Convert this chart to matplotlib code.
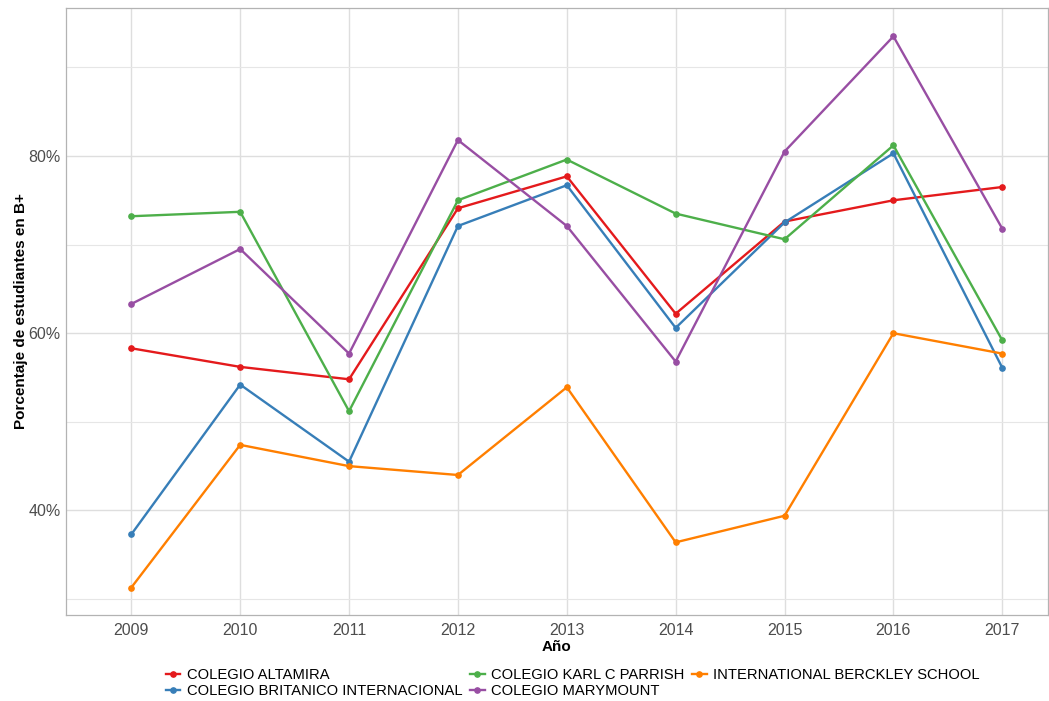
import numpy as np
import matplotlib.pyplot as plt
from matplotlib.ticker import FuncFormatter, FixedLocator

plt.rcParams['font.family'] = ['Liberation Sans', 'DejaVu Sans']

# datos: porcentaje de estudiantes en B+ por colegio
anios = [2009, 2010, 2011, 2012, 2013, 2014, 2015, 2016, 2017]
altamira = [58.3, 56.2, 54.8, 74.1, 77.7, 62.2, 72.6, 75.0, 76.5]
britanico = [37.3, 54.2, 45.5, 72.1, 76.7, 60.6, 72.5, 80.3, 56.1]
karl_parrish = [73.2, 73.7, 51.2, 75.0, 79.6, 73.5, 70.6, 81.2, 59.2]
marymount = [63.3, 69.5, 57.7, 81.8, 72.1, 56.8, 80.5, 93.5, 71.8]
berckley = [31.3, 47.4, 45.0, 44.0, 53.9, 36.4, 39.4, 60.0, 57.7]

series = [
    ('COLEGIO ALTAMIRA', altamira, '#E41A1C'),
    ('COLEGIO BRITANICO INTERNACIONAL', britanico, '#377EB8'),
    ('COLEGIO KARL C PARRISH', karl_parrish, '#4DAF4A'),
    ('COLEGIO MARYMOUNT', marymount, '#984EA3'),
    ('INTERNATIONAL BERCKLEY SCHOOL', berckley, '#FF7F00'),
]

fig = plt.figure(figsize=(10.49, 7.01), dpi=100)
ax = fig.add_axes([66/1049, 86/701, 982/1049, 607/701])

for nombre, vals, color in series:
    ax.plot(anios, vals, color=color, linewidth=1.7, marker='o', markersize=3.8,
            label=nombre, zorder=3)

ax.set_xlim(2008.4, 2017.42)
ax.set_ylim(28.2, 96.7)
ax.set_xticks(anios)
ax.yaxis.set_major_locator(FixedLocator([40, 60, 80]))
ax.yaxis.set_minor_locator(FixedLocator([30, 50, 70, 90]))
ax.yaxis.set_major_formatter(FuncFormatter(lambda v, p: f'{v:.0f}%'))

ax.grid(True, which='major', color='#DEDEDE', linewidth=1.0, zorder=0)
ax.grid(True, which='minor', axis='y', color='#E6E6E6', linewidth=0.8, zorder=0)
ax.set_axisbelow(True)
for s in ax.spines.values():
    s.set_color('#B3B3B3')
    s.set_linewidth(0.9)

ax.tick_params(which='both', length=0, labelsize=11.5, labelcolor='#4D4D4D')
ax.tick_params(axis='x', pad=6)
ax.tick_params(axis='y', pad=4)

ax.set_xlabel('Año', fontsize=11, fontweight='bold', labelpad=1)
ax.set_ylabel('Porcentaje de estudiantes en B+', fontsize=11, fontweight='bold', labelpad=0)

handles, labels = ax.get_legend_handles_labels()
fig.legend(handles, labels, loc='center', bbox_to_anchor=(0.546, 0.0255), ncol=3,
           frameon=False, fontsize=10.6, handlelength=1.0, handletextpad=0.45,
           columnspacing=0.5, labelspacing=0.15, borderaxespad=0)

fig.savefig('out.png', dpi=100)
